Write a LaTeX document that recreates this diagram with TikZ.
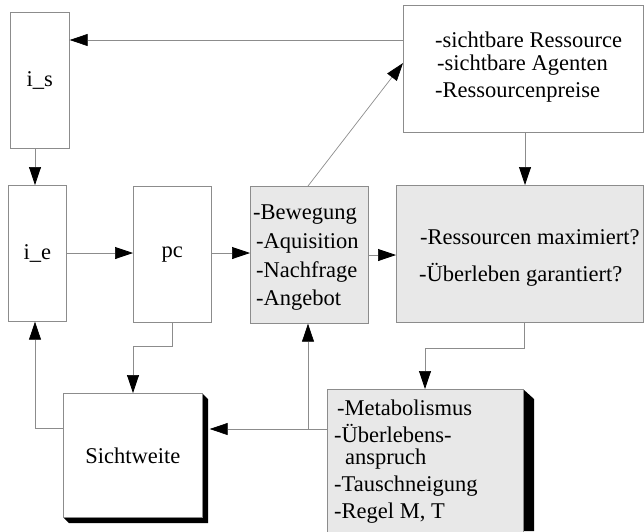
\documentclass[tikz,border=0pt]{standalone}
\usepackage{fontspec}
\setmainfont{Liberation Serif}
\usetikzlibrary{arrows.meta,calc}
\begin{document}
\begin{tikzpicture}[x=1pt,y=-1pt,
  box/.style={draw=black!45,line width=0.7pt,fill=white,inner sep=0pt,
    font=\fontsize{22.5}{26}\selectfont},
  shaded/.style={box,fill=black!9},
  txt/.style={anchor=west,inner sep=0pt,font=\fontsize{22.5}{26}\selectfont},
  conn/.style={draw=black!45,line width=0.7pt,
    -{Triangle[length=18pt,width=12pt,color=black]}},
  link/.style={draw=black!45,line width=0.7pt}]
\useasboundingbox (0,0) rectangle (644,531);

% shadows behind the two lower boxes
\fill[black] (202,393) -- (208,399) -- (208,523) -- (69,523) -- (63,517) -- (202,517) -- cycle;
\fill[black] (523,389) -- (534,399) -- (534,531) -- (523,531) -- cycle;

% boxes
\node[box,anchor=north west,minimum width=59pt,minimum height=136pt] (is) at (10,12) {i\_s};
\node[box,anchor=north west,minimum width=58pt,minimum height=136pt] (ie) at (8,185) {i\_e};
\node[box,anchor=north west,minimum width=78pt,minimum height=136pt] (pc) at (133,186) {pc};
\node[shaded,anchor=north west,minimum width=118pt,minimum height=137pt] (bw) at (250,186) {};
\node[box,anchor=north west,minimum width=240pt,minimum height=127pt] (tr) at (403,5) {};
\node[shaded,anchor=north west,minimum width=247pt,minimum height=137pt] (rs) at (396,185) {};
\node[box,anchor=north west,minimum width=139pt,minimum height=124pt] (sw) at (63,393) {Sichtweite};
\node[shaded,anchor=north west,minimum width=196pt,minimum height=150pt] (mt) at (327,389) {};
\coordinate (swr) at ([xshift=7pt]sw.east);

% box texts
\node[txt] (bw1) at (253,215) {-Bewegung};
\node[txt] (bw2) at (256,243) {-Aquisition};
\node[txt] (bw3) at (256,272) {-Nachfrage};
\node[txt] (bw4) at (256,300) {-Angebot};

\node[txt] (tr1) at (435,40) {-sichtbare Ressource};
\node[txt] (tr2) at (437,65) {-sichtbare Agenten};
\node[txt] (tr3) at (435,92) {-Ressourcenpreise};

\node[txt] (rs1) at (420,237) {-Ressourcen maximiert?};
\node[txt] (rs2) at (419,275) {-Überleben garantiert?};

\node[txt] (mt1) at (337,408) {-Metabolismus};
\node[txt] (mt2) at (334,433) {-Überlebens-};
\node[txt] (mt3) at (345,459) {anspruch};
\node[txt] (mt4) at (334,486) {-Tauschneigung};
\node[txt] (mt5) at (334,513) {-Regel M, T};

% connectors
\draw[conn] (tr.west |- 0,40) -- (is.east |- 0,40);
\draw[conn] (is.south -| 35,0) -- (ie.north -| 35,0);
\draw[conn] (ie.east |- 0,253) -- (pc.west |- 0,253);
\draw[conn] (pc.east |- 0,253) -- (bw.west |- 0,253);
\draw[conn] (bw.east |- 0,255) -- (rs.west |- 0,255);
\draw[conn] (bw.north -| 308,0) -- (tr.west |- 0,63);
\draw[conn] (tr.south -| 525,0) -- (rs.north -| 525,0);
\draw[conn] (rs.south -| 524,0) -- (524,348) -| (mt.north -| 425,0);
\draw[conn] (pc.south -| 172,0) -- (172,346) -| (sw.north -| 133,0);
\draw[conn] (mt.west |- 0,429) -- (swr |- 0,429);
\coordinate (j) at (308,429);
\draw[conn] (j) -- (bw.south -| 308,0);
\draw[conn] (sw.west |- 0,428) -| (ie.south -| 35,0);
\end{tikzpicture}
\end{document}
